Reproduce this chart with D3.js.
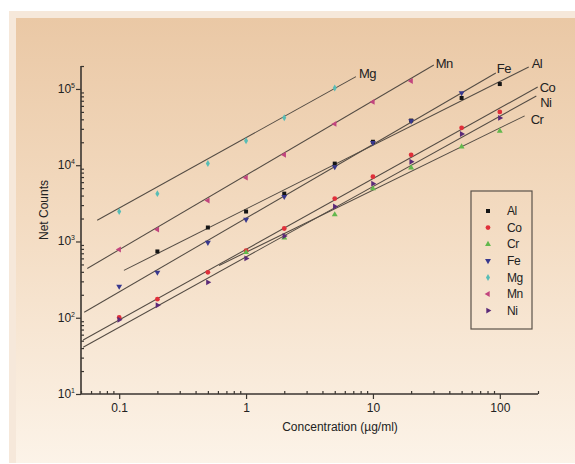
<!DOCTYPE html>
<html><head><meta charset="utf-8">
<script src="https://cdn.jsdelivr.net/npm/d3@7"></script>
<style>body{margin:0;background:#fff}svg{display:block;font-family:"Liberation Sans",Arial,sans-serif}</style>
</head><body><svg id="c" width="575" height="464"></svg>
<script>
// ---- data ----
const concentrations = [0.1, 0.2, 0.5, 1, 2, 5, 10, 20, 50, 100];
const elements = ["Al", "Co", "Cr", "Fe", "Mg", "Mn", "Ni"];
const Al = [null, 740, 1525, 2470, 4240, 10500, 20300, 38500, 76200, 116000];
const Co = [101, 175, 394, 760, 1480, 3650, 7080, 13700, 30900, 50000];
const Cr = [null, null, null, 720, 1120, 2250, 4930, 9270, 17500, 28100];
const Fe = [258, 394, 970, 1940, 3870, 9500, 19800, 38000, 88700, null];
const Mg = [2470, 4240, 10500, 21000, 41800, 103000, null, null, null, null];
const Mn = [785, 1436, 3440, 6870, 13700, 34800, 67600, 127000, null, null];
const Ni = [94, 146, 291, 600, 1180, 2870, 5730, 11100, 25700, 41700];
// fitted calibration lines: [xStart, yStart, xEnd, yEnd]
const fitAl = [0.109, 418, 169, 194000];
const fitCo = [0.052, 51, 199, 106000];
const fitCr = [0.613, 485, 157, 44400];
const fitFe = [0.053, 118, 93, 162000];
const fitMg = [0.0671, 1900, 7.35, 145000];
const fitMn = [0.056, 443, 30.2, 206000];
const fitNi = [0.052, 41, 194, 81000];
const xTickLabels = ["0.1", "1", "10", "100"];
const yTickExponents = ["1", "2", "3", "4", "5"];
const xTitle = "Concentration (\u00b5g/ml)";
const yTitle = "Net Counts";

const seriesValues = {Al, Co, Cr, Fe, Mg, Mn, Ni};
const fits = {Al: fitAl, Co: fitCo, Cr: fitCr, Fe: fitFe, Mg: fitMg, Mn: fitMn, Ni: fitNi};

// ---- styles ----
const colors = {Al: "#151515", Co: "#e0303a", Cr: "#62b84c", Fe: "#38388e", Mg: "#58bdb6", Mn: "#c2457e", Ni: "#5b2a78"};
const shapes = {Al: [d3.symbolSquare, 0, 16], Co: [d3.symbolCircle, 0, 18], Cr: [d3.symbolTriangle, 0, 15],
  Fe: [d3.symbolTriangle, 180, 15], Mg: [d3.symbolDiamond, 0, 14], Mn: [d3.symbolTriangle, -90, 15], Ni: [d3.symbolTriangle, 90, 15]};
const labelOffsets = {Mg: [3, -3], Mn: [2, -2], Fe: [1, -5], Al: [3, -4], Co: [2, 0], Ni: [4, 7], Cr: [6, 4]};

const svg = d3.select("#c");
// background card
const defs = svg.append("defs");
const g1 = defs.append("linearGradient").attr("id", "bg").attr("x1", 0).attr("y1", 0).attr("x2", 0).attr("y2", 1);
g1.append("stop").attr("offset", "0%").attr("stop-color", "#eac8a5");
g1.append("stop").attr("offset", "45%").attr("stop-color", "#f3dbc1");
g1.append("stop").attr("offset", "100%").attr("stop-color", "#fcf3e8");
svg.append("rect").attr("x", 9).attr("y", 11).attr("width", 570).attr("height", 452).attr("fill", "#f6e8da");
svg.append("rect").attr("x", 16).attr("y", 18).attr("width", 570).attr("height", 445).attr("fill", "url(#bg)");

const x = d3.scaleLog().domain([0.05, 200]).range([81, 538]);
const y = d3.scaleLog().domain([10, 2e5]).range([394, 66]);

const axisColor = "#3a3530";
// minor ticks
const xMinor = [], yMinor = [];
for (let e = -2; e <= 2; e++) for (let m = 1; m <= 9; m++) {
  const v = m * Math.pow(10, e);
  if (v >= 0.05 - 1e-9 && v <= 200 + 1e-9) xMinor.push(v);
}
for (let e = 1; e <= 5; e++) for (let m = 1; m <= 9; m++) {
  const v = m * Math.pow(10, e);
  if (v <= 2e5 + 1e-9) yMinor.push(v);
}
const xMajor = xTickLabels.map(Number);
const yMajor = yTickExponents.map(e => Math.pow(10, +e));

const ax = svg.append("g");
// x axis
ax.append("g").attr("transform", "translate(0,394)")
  .call(d3.axisBottom(x).tickValues(xMinor.filter(v => !xMajor.includes(+v.toPrecision(6)))).tickSize(-3).tickFormat(""))
  .call(g => g.select(".domain").remove());
ax.append("g").attr("transform", "translate(0,394)")
  .call(d3.axisBottom(x).tickValues(xMajor).tickSize(5).tickPadding(4).tickFormat((d, i) => xTickLabels[i]))
  .call(g => g.select(".domain").remove())
  .call(g => g.selectAll("text").attr("font-size", 12).attr("fill", "#222"));
// y axis
ax.append("g").attr("transform", "translate(81,0)")
  .call(d3.axisLeft(y).tickValues(yMinor.filter(v => !yMajor.some(m => Math.abs(m - v) < 1e-6))).tickSize(-3).tickFormat(""))
  .call(g => g.select(".domain").remove());
ax.append("g").attr("transform", "translate(81,0)")
  .call(d3.axisLeft(y).tickValues(yMajor).tickSize(5).tickPadding(4).tickFormat(""))
  .call(g => g.select(".domain").remove());
ax.selectAll("line").attr("stroke", axisColor).attr("stroke-width", 1.2);
// axis lines
ax.append("line").attr("x1", 81).attr("x2", 538).attr("y1", 394).attr("y2", 394).attr("stroke", axisColor).attr("stroke-width", 1.6);
ax.append("line").attr("x1", 81).attr("x2", 81).attr("y1", 66).attr("y2", 394).attr("stroke", axisColor).attr("stroke-width", 1.6);
// y tick labels with superscripts
yMajor.forEach((v, i) => {
  const t = svg.append("text").attr("x", 75).attr("y", y(v) + 4).attr("text-anchor", "end")
    .attr("font-size", 12).attr("fill", "#222");
  t.append("tspan").text("10");
  t.append("tspan").attr("font-size", 7).attr("dy", -5).text(yTickExponents[i]);
});
// titles
svg.append("text").attr("x", 340).attr("y", 431).attr("text-anchor", "middle").attr("font-size", 12).attr("fill", "#222").text(xTitle);
svg.append("text").attr("transform", "translate(48,210) rotate(-90)").attr("text-anchor", "middle").attr("font-size", 12).attr("fill", "#222").text(yTitle);

// fit lines
const plot = svg.append("g");
elements.forEach(el => {
  const f = fits[el];
  plot.append("line").attr("x1", x(f[0])).attr("y1", y(f[1])).attr("x2", x(f[2])).attr("y2", y(f[3]))
    .attr("stroke", "#544c44").attr("stroke-width", 1.05);
  const o = labelOffsets[el];
  plot.append("text").attr("x", x(f[2]) + o[0]).attr("y", y(f[3]) + o[1]).attr("dy", "0.35em")
    .attr("font-size", 13).attr("letter-spacing", -0.6).attr("fill", "#222").text(el);
});
// points
elements.forEach(el => {
  const sym = d3.symbol().type(shapes[el][0]).size(shapes[el][2]);
  seriesValues[el].forEach((v, i) => {
    if (v == null) return;
    plot.append("path").attr("d", sym())
      .attr("transform", `translate(${x(concentrations[i])},${y(v)}) rotate(${shapes[el][1]})`)
      .attr("fill", colors[el]);
  });
});

// legend
const lg = svg.append("g");
lg.append("rect").attr("x", 471).attr("y", 191).attr("width", 61).attr("height", 138)
  .attr("fill", "none").attr("stroke", "#5a524a").attr("stroke-width", 1.2);
elements.forEach((el, i) => {
  const cy = 211 + i * 16.6;
  const sym = d3.symbol().type(shapes[el][0]).size(shapes[el][2]);
  lg.append("path").attr("d", sym()).attr("transform", `translate(488,${cy}) rotate(${shapes[el][1]})`).attr("fill", colors[el]);
  lg.append("text").attr("x", 507).attr("y", cy).attr("dy", "0.35em").attr("font-size", 12)
    .attr("letter-spacing", -0.4).attr("fill", "#222").text(el);
});
</script></body></html>
